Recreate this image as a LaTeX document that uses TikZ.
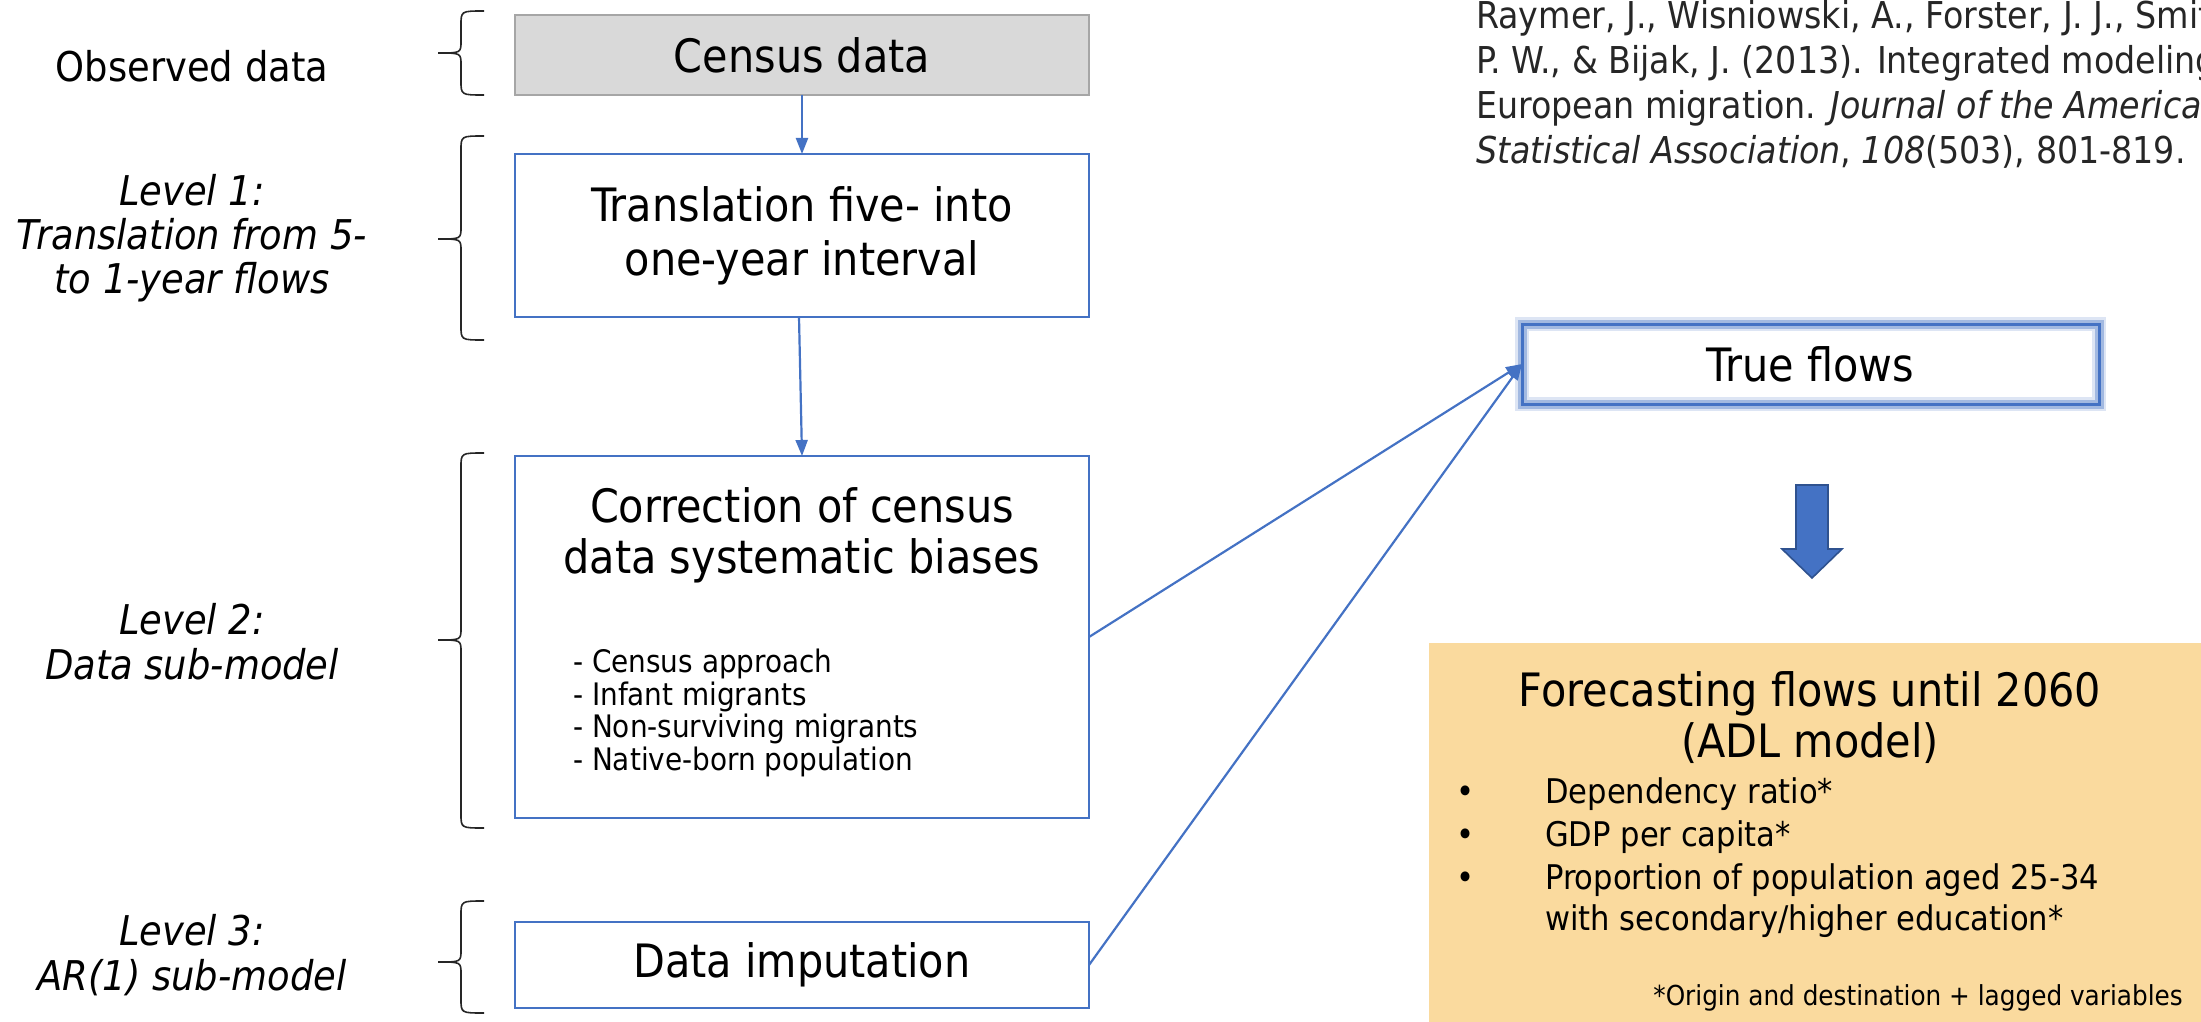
\documentclass[tikz,border=0pt]{standalone}
\usepackage{fontspec}
\setmainfont{DejaVu Sans Condensed}
\usetikzlibrary{arrows.meta}
\definecolor{lineblue}{HTML}{4472C4}
\definecolor{darkblue}{HTML}{2F528F}
\definecolor{censusgray}{HTML}{D9D9D9}
\definecolor{censusborder}{HTML}{A6A6A6}
\definecolor{peach}{HTML}{FADA9E}
\definecolor{citegray}{HTML}{262626}
\begin{document}
\begin{tikzpicture}[x=1pt,y=-1pt,
  boxtext/.style={font=\fontsize{46}{51}\selectfont, align=center, text=black},
  flowbox/.style={draw=lineblue, line width=2pt, fill=white, anchor=north west, inner sep=0pt, outer sep=0pt},
  conn/.style={draw=lineblue, line width=2.2pt, -{Triangle[length=16pt,width=12pt]}},
  lbl/.style={font=\fontsize{41}{45}\selectfont, align=center, text=black},
  bracestyle/.style={draw=black!85, line width=1.6pt},
  citestyle/.style={font=\fontsize{37}{45}\selectfont, text=citegray, anchor=base west, inner sep=0pt},
  smalllist/.style={font=\fontsize{31}{32.5}\selectfont, align=left, anchor=north west, inner sep=0pt},
  fcitem/.style={font=\fontsize{34}{43}\selectfont, anchor=base west, inner sep=0pt},
]
\useasboundingbox (0,0) rectangle (2201,1022);

% ---- left column boxes ----
\node[flowbox, draw=censusborder, fill=censusgray, minimum width=574pt, minimum height=80pt, boxtext] (census) at (515,15) {Census data};
\node[flowbox, minimum width=574pt, minimum height=163pt, boxtext] (trans) at (515,154) {Translation five- into\\[3pt]one-year interval};
\node[flowbox, minimum width=574pt, minimum height=362pt] (corr) at (515,456) {};
\node[boxtext, anchor=north] (corrtitle) at (802,484) {Correction of census\\data systematic biases};
\node[smalllist] (corrlist) at (573,649) {- Census approach\\- Infant migrants\\- Non-surviving migrants\\- Native-born population};
\node[flowbox, minimum width=574pt, minimum height=86pt, boxtext] (imput) at (515,922) {Data imputation};

% ---- connectors ----
\draw[conn] (census.south) -- (trans.north);
\draw[conn] ([xshift=-3pt]trans.south) -- (corr.north);

% ---- true flows ----
\node[flowbox, draw=none, minimum width=577pt, minimum height=80pt, boxtext] (true) at (1522,324) {True flows};
\draw[lineblue!60, line width=14pt, opacity=0.3] (true.north west) rectangle (true.south east);
\draw[lineblue!75, line width=9pt, opacity=0.55] (true.north west) rectangle (true.south east);
\draw[lineblue, line width=3pt] (true.north west) rectangle (true.south east);

\draw[conn] (corr.east) -- (true.west);
\draw[conn] (imput.east) -- (true.west);

% ---- block arrow ----
\draw[fill=lineblue, draw=darkblue, line width=1.6pt, line join=miter]
  (1796,485) -- (1828,485) -- (1828,549) -- (1842,549) -- (1812,578) -- (1782,549) -- (1796,549) -- cycle;

% ---- forecasting box ----
\node[fill=peach, anchor=north west, minimum width=790pt, minimum height=400pt, inner sep=0pt] (fc) at (1429,643) {};
\node[boxtext, anchor=north] (fctitle) at (1810,668) {Forecasting flows until 2060\\(ADL model)};
\node[fcitem] (b1) at (1456,803) {•};
\node[fcitem] (t1) at (1545,803) {Dependency ratio*};
\node[fcitem] (b2) at (1456,846) {•};
\node[fcitem] (t2) at (1545,846) {GDP per capita*};
\node[fcitem] (b3) at (1456,889) {•};
\node[fcitem] (t3) at (1545,889) {Proportion of population aged 25-34};
\node[fcitem] (t4) at (1545,930) {with secondary/higher education*};
\node[font=\fontsize{27.5}{32}\selectfont, anchor=base east, inner sep=0pt] (fnote) at (2183,1005) {*Origin and destination + lagged variables};

% ---- citation ----
\node[citestyle] (c1) at (1476,29) {Raymer, J., Wisniowski, A., Forster, J. J., Smith};
\node[citestyle] (c2) at (1476,74) {P. W., \& Bijak, J. (2013). Integrated modeling};
\node[citestyle] (c3) at (1476,119) {European migration. \textit{Journal of the American}};
\node[citestyle] (c4) at (1476,164) {\textit{Statistical Association}, \textit{108}(503), 801-819.};

% ---- left labels ----
\node[lbl] (obs) at (192,66) {Observed data};
\node[lbl, font=\fontsize{41}{44}\selectfont\itshape] (lev1) at (192,238) {Level 1:\\Translation from 5-\\to 1-year flows};
\node[lbl, font=\fontsize{41}{45}\selectfont\itshape] (lev2) at (192,642) {Level 2:\\Data sub-model};
\node[lbl, font=\fontsize{41}{45}\selectfont\itshape] (lev3) at (192,955) {Level 3:\\AR(1) sub-model};

% ---- braces ----
\foreach \yt/\ym/\yb in {11/53/95, 136/239/340, 453/640/828, 901/962/1013}{
  \draw[bracestyle] (484,\yt) .. controls (461,\yt) .. (461,\yt+14) -- (461,\ym-12)
     .. controls (461,\ym) .. (438,\ym) .. controls (461,\ym) .. (461,\ym+12)
     -- (461,\yb-14) .. controls (461,\yb) .. (484,\yb);
}
\end{tikzpicture}
\end{document}
